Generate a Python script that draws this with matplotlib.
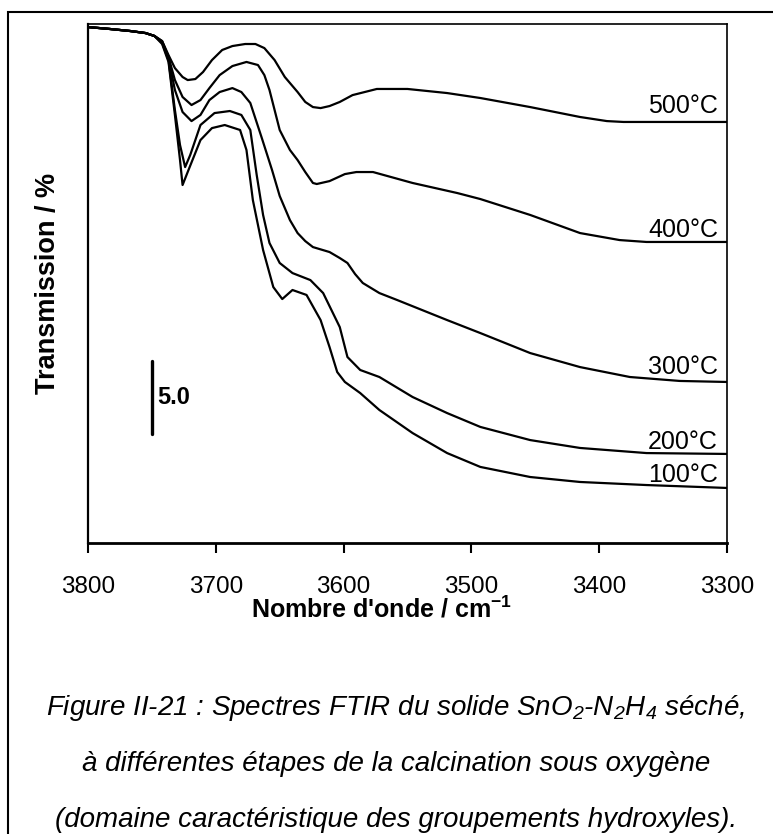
import matplotlib
matplotlib.use("Agg")
import matplotlib.pyplot as plt
from matplotlib.patches import Rectangle

plt.rcParams['font.family'] = ['Liberation Sans', 'DejaVu Sans']
plt.rcParams['mathtext.fontset'] = 'custom'
plt.rcParams['mathtext.rm'] = 'Liberation Sans:italic'
plt.rcParams['mathtext.it'] = 'Liberation Sans:italic'
plt.rcParams['mathtext.bf'] = 'Liberation Sans:bold'

# FTIR spectra (OH stretching region), transmission in arbitrary offset units
wn_500 = [3800, 3783, 3767, 3755, 3748, 3742, 3737, 3732, 3726, 3722, 3716, 3710, 3703, 3695,
          3687, 3677, 3669, 3662, 3654, 3646, 3636, 3630, 3624, 3618, 3611, 3603, 3593, 3574,
          3550, 3519, 3493, 3454, 3415, 3394, 3381, 3300]
t_500 = [35.34, 35.21, 35.07, 34.93, 34.73, 34.38, 33.42, 32.53, 31.92, 31.71, 31.78, 32.26, 33.08, 33.77,
         34.04, 34.18, 34.18, 33.90, 33.08, 31.92, 30.89, 30.21, 29.86, 29.79, 29.93, 30.21, 30.68, 31.10,
         31.10, 30.82, 30.48, 29.86, 29.18, 28.90, 28.84, 28.84]

wn_400 = [3800, 3783, 3767, 3755, 3748, 3742, 3737, 3732, 3726, 3719, 3712, 3705, 3697, 3687,
          3676, 3667, 3662, 3658, 3650, 3642, 3636, 3630, 3624, 3621, 3611, 3599, 3590, 3577,
          3546, 3511, 3493, 3454, 3415, 3384, 3363, 3300]
t_400 = [35.34, 35.21, 35.07, 34.93, 34.73, 34.38, 33.29, 31.71, 30.55, 30.00, 30.34, 31.16, 32.05, 32.67,
         32.95, 32.74, 32.05, 31.03, 28.29, 26.92, 26.23, 25.41, 24.66, 24.59, 24.79, 25.27, 25.41, 25.41,
         24.66, 23.97, 23.56, 22.47, 21.23, 20.75, 20.62, 20.62]

wn_300 = [3800, 3783, 3767, 3755, 3748, 3742, 3737, 3732, 3726, 3719, 3712, 3705, 3697, 3687,
          3680, 3673, 3664, 3656, 3650, 3642, 3636, 3630, 3624, 3611, 3603, 3597, 3591, 3585,
          3572, 3558, 3519, 3493, 3454, 3415, 3376, 3337, 3300]
t_300 = [35.34, 35.21, 35.07, 34.93, 34.73, 34.32, 33.22, 31.03, 29.52, 28.90, 29.32, 30.34, 30.89, 31.16,
         30.89, 30.14, 27.74, 25.55, 23.77, 22.12, 21.23, 20.68, 20.27, 19.93, 19.52, 19.18, 18.42, 17.81,
         17.12, 16.64, 15.27, 14.38, 13.01, 12.05, 11.37, 11.10, 11.03]

wn_200 = [3800, 3783, 3767, 3755, 3748, 3742, 3737, 3732, 3728, 3724, 3720, 3712, 3701, 3689,
          3680, 3673, 3668, 3663, 3658, 3650, 3640, 3626, 3616, 3603, 3597, 3587, 3572, 3546,
          3519, 3493, 3454, 3415, 3363, 3300]
t_200 = [35.34, 35.21, 35.07, 34.93, 34.73, 34.25, 33.08, 29.66, 27.26, 25.75, 26.58, 28.63, 29.45, 29.59,
         29.32, 28.29, 25.21, 22.47, 20.55, 19.18, 18.49, 18.01, 17.12, 14.79, 12.74, 11.85, 11.37, 10.00,
         8.90, 7.95, 7.05, 6.51, 6.16, 6.10]

wn_100 = [3800, 3783, 3767, 3755, 3748, 3742, 3737, 3732, 3728, 3726, 3722, 3712, 3703, 3693,
          3681, 3676, 3671, 3663, 3655, 3648, 3640, 3629, 3618, 3611, 3605, 3599, 3587, 3572,
          3546, 3519, 3493, 3454, 3415, 3363, 3300]
t_100 = [35.34, 35.21, 35.07, 34.93, 34.73, 34.18, 32.95, 29.32, 26.23, 24.52, 25.41, 27.60, 28.42, 28.63,
         28.29, 26.92, 23.49, 20.07, 17.53, 16.71, 17.33, 16.99, 15.27, 13.42, 11.71, 11.03, 10.27, 9.11,
         7.53, 6.16, 5.21, 4.52, 4.18, 3.97, 3.77]

series = [
    ("500°C", wn_500, t_500, 9),
    ("400°C", wn_400, t_400, 5),
    ("300°C", wn_300, t_300, 8),
    ("200°C", wn_200, t_200, 5),
    ("100°C", wn_100, t_100, 6),
]

x_ticks = [3800, 3700, 3600, 3500, 3400, 3300]
bar_wn = 3750
bar_base = 7.5
bar_len = 5.0

fig = plt.figure(figsize=(7.73, 8.34), dpi=100)
ax = fig.add_axes([88 / 773, 1 - 543 / 834, 639 / 773, 519 / 834])

for name, wn, t, dy in series:
    ax.plot(wn, t, color='black', linewidth=1.6, solid_joinstyle='round')
    ax.annotate(name, xy=(wn[-1], t[-1]), xytext=(-9, dy), textcoords='offset pixels',
                ha='right', va='baseline', fontsize=18)

# 5.0 transmission scale bar
ax.plot([bar_wn, bar_wn], [bar_base, bar_base + bar_len], color='black', linewidth=2.4,
        solid_capstyle='round')
ax.text(bar_wn - 4, bar_base + bar_len / 2, "%.1f" % bar_len, fontsize=17, fontweight='bold',
        ha='left', va='center')

ax.set_xlim(3800, 3300)
ax.set_ylim(0, 35.55)
ax.set_xticks(x_ticks)
ax.set_xticklabels([str(v) for v in x_ticks], fontsize=17.5)
ax.set_yticks([])
ax.tick_params(axis='x', direction='out', length=7.5, width=1.5, pad=16)

ax.spines['left'].set_linewidth(1.6)
ax.spines['bottom'].set_linewidth(2.0)
ax.spines['top'].set_linewidth(1.2)
ax.spines['right'].set_linewidth(1.2)

ax.set_xlabel(r"Nombre d'onde / cm$^{\mathbf{-1}}$", fontsize=18, fontweight='bold')
ax.xaxis.set_label_coords((382 - 88) / 639, -(609 - 543) / 519)
ax.xaxis.label.set_va('center')
ax.set_ylabel("Transmission / %", fontsize=19.5, fontweight='bold')
ax.yaxis.set_label_coords(-(88 - 48) / 639, (543 - 283) / 519)
ax.yaxis.label.set_va('center')

caption = [
    r"Figure II-21 : Spectres FTIR du solide SnO$_2$-N$_2$H$_4$ séché,",
    "à différentes étapes de la calcination sous oxygène",
    "(domaine caractéristique des groupements hydroxyles).",
]
for i, line in enumerate(caption):
    fig.text(0.512, 1 - (708 + 56 * i) / 834, line, fontsize=20, style='italic',
             ha='center', va='center')

# frame around the whole figure
fig.patches.append(Rectangle((8 / 773, -0.1), 1.0, 1 - 12 / 834 + 0.1, transform=fig.transFigure,
                             fill=False, edgecolor='black', linewidth=1.5))

fig.savefig("out.png", dpi=100)
